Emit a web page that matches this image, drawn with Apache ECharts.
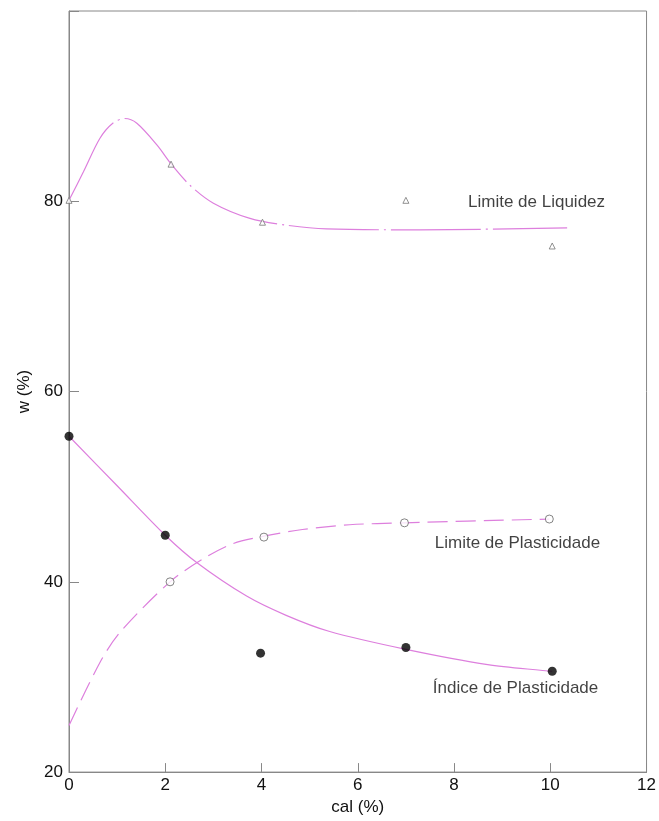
<!DOCTYPE html>
<html>
<head>
<meta charset="utf-8">
<script src="https://cdn.jsdelivr.net/npm/echarts@6/dist/echarts.min.js"></script>
<style>
html,body{margin:0;padding:0;background:#fff;}
#chart{width:659px;height:821px;}
</style>
</head>
<body>
<div id="chart"></div>
<script>
// Measured points
const llPoints = [[0, 80.1], [2.12, 83.9], [4.02, 77.8], [7.0, 80.1], [10.04, 75.3]];
const lpPoints = [[2.1, 40.0], [4.05, 44.7], [6.97, 46.2], [9.98, 46.6]];
const ipPoints = [[0, 55.3], [2.0, 44.9], [3.98, 32.5], [7.0, 33.1], [10.04, 30.6]];

// Trend curves
const llCurve = [[0, 80.1], [0.3, 83.1], [0.64, 86.6], [0.91, 88.2], [1.16, 88.7], [1.41, 88.2], [1.83, 85.9], [2.14, 83.8], [2.51, 81.7], [3.0, 79.8], [3.76, 78.2], [4.5, 77.5], [5.35, 77.1], [7.28, 77.0], [10.35, 77.2]];
const lpCurve = [[0, 24.9], [0.64, 31.5], [1.06, 34.7], [2.1, 40.0], [2.78, 42.4], [3.4, 44.0], [4.05, 44.8], [4.85, 45.5], [5.83, 46.0], [6.97, 46.2], [9.98, 46.6]];
const ipCurve = [[0, 55.3], [1.0, 50.1], [2.0, 44.9], [2.66, 42.0], [3.69, 38.5], [4.5, 36.5], [5.4, 34.8], [7.0, 32.9], [8.7, 31.3], [10.04, 30.6]];

// Tick values and labels
const xTicks = [0, 2, 4, 6, 8, 10, 12];
const yTicks = [20, 40, 60, 80];
const xName = 'cal (%)';
const yName = 'w (%)';
const labelNames = ['Limite de Liquidez', 'Limite de Plasticidade', 'Índice de Plasticidade'];
const labelAnchors = [[8.28, 79.9], [7.59, 44.0], [7.55, 28.8]];

const FONT = 'Liberation Sans, Arial, sans-serif';
const TXT = '#111';
const AX = '#888';
const LINE = '#dd7fdd';

const chart = echarts.init(document.getElementById('chart'), null, {renderer: 'canvas'});
chart.setOption({
  animation: false,
  backgroundColor: '#fff',
  grid: {left: 69, right: 12, top: 11, bottom: 44, show: true, borderColor: AX, borderWidth: 1, backgroundColor: 'transparent'},
  xAxis: {
    type: 'value', min: xTicks[0], max: xTicks[xTicks.length - 1], interval: 2,
    name: xName, nameLocation: 'middle', nameGap: 24,
    nameTextStyle: {fontFamily: FONT, fontSize: 17, color: TXT},
    axisLine: {show: true, lineStyle: {color: AX, width: 1}},
    axisTick: {show: true, inside: true, length: 9, lineStyle: {color: AX}},
    axisLabel: {fontFamily: FONT, fontSize: 17, color: TXT, margin: 5},
    splitLine: {show: false}
  },
  yAxis: {
    type: 'value', min: 20, max: 100, interval: 20,
    name: yName, nameLocation: 'middle', nameGap: 36,
    nameTextStyle: {fontFamily: FONT, fontSize: 17, color: TXT},
    axisLine: {show: true, lineStyle: {color: AX, width: 1}},
    axisTick: {show: true, inside: true, length: 10, lineStyle: {color: AX}},
    axisLabel: {fontFamily: FONT, fontSize: 17, color: TXT, margin: 6,
      formatter: v => (yTicks.indexOf(v) >= 0 ? String(v) : '')},
    splitLine: {show: false}
  },
  series: [
    {type: 'line', data: llCurve, smooth: 0.3, symbol: 'none', z: 2,
     lineStyle: {color: LINE, width: 1.2, type: [90, 5, 2, 5]}},
    {type: 'line', data: lpCurve, smooth: 0.3, symbol: 'none', z: 2,
     lineStyle: {color: LINE, width: 1.2, type: [20, 8]}},
    {type: 'line', data: ipCurve, smooth: 0.3, symbol: 'none', z: 2,
     lineStyle: {color: LINE, width: 1.2}},
    {type: 'scatter', data: llPoints, symbol: 'triangle', symbolSize: 6, z: 3,
     itemStyle: {color: '#fff', borderColor: '#777', borderWidth: 1}},
    {type: 'scatter', data: lpPoints, symbol: 'circle', symbolSize: 8, z: 3,
     itemStyle: {color: '#fff', borderColor: '#666', borderWidth: 1}},
    {type: 'scatter', data: ipPoints, symbol: 'circle', symbolSize: 9, z: 3,
     itemStyle: {color: '#000'}},
    {type: 'scatter', symbolSize: 1, z: 4, itemStyle: {color: 'rgba(0,0,0,0)'},
     data: labelAnchors.map((p, i) => ({value: p, name: labelNames[i]})),
     label: {show: true, position: 'right', distance: 0, formatter: p => p.name,
       fontFamily: FONT, fontSize: 17, color: TXT}}
  ]
});
</script>
</body>
</html>
